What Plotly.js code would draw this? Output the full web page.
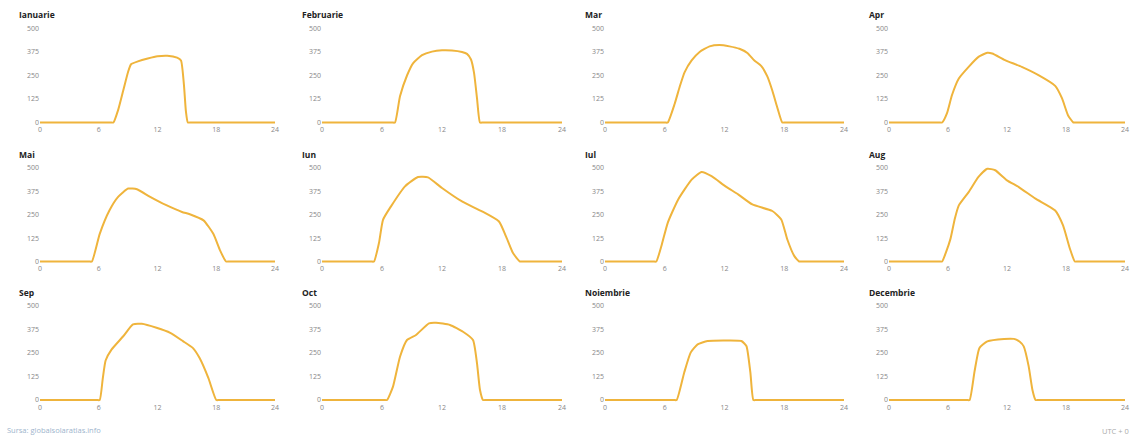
<!DOCTYPE html>
<html>
<head>
<meta charset="utf-8">
<script src="https://cdn.plot.ly/plotly-3.0.1.min.js"></script>
<style>html,body{margin:0;padding:0;background:#fff;}#chart{width:1136px;height:439px;}</style>
</head>
<body>
<div id="chart"></div>
<script>
// Month names (panel titles)
const months = ["Ianuarie","Februarie","Mar","Apr","Mai","Iun","Iul","Aug","Sep","Oct","Noiembrie","Decembrie"];

// Tick labels
const xTicks = [0, 6, 12, 18, 24];
const yTicks = [0, 125, 250, 375, 500];

// Hour positions and irradiance values (W/m²) for each month
const hIan = [0, 7.2, 7.5, 8, 8.5, 9, 9.3, 10, 11, 12, 13, 14, 14.4, 14.7, 14.9, 15.1, 15.4, 24];
const vIan = [0, 0, 0, 70, 170, 270, 310, 325, 340, 352, 355, 345, 330, 200, 60, 0, 0, 0];

const hFeb = [0, 7.0, 7.3, 7.8, 8.5, 9.1, 10, 11, 12, 13, 14, 14.5, 14.9, 15.2, 15.5, 15.8, 16.1, 24];
const vFeb = [0, 0, 0, 140, 250, 315, 358, 377, 384, 383, 375, 365, 335, 265, 130, 0, 0, 0];

const hMar = [0, 6.0, 6.3, 7, 7.5, 8, 8.7, 9.5, 10.5, 11.5, 12.5, 13.5, 14.3, 15, 15.7, 16.3, 16.8, 17.3, 17.8, 18.1, 24];
const vMar = [0, 0, 0, 100, 190, 268, 330, 375, 405, 412, 405, 392, 370, 330, 300, 245, 170, 80, 0, 0, 0];

const hApr = [0, 5.1, 5.4, 5.9, 6.4, 7.1, 8.1, 9.1, 10, 10.5, 11.8, 13.5, 15.2, 16.9, 17.6, 18.2, 18.75, 19.05, 24];
const vApr = [0, 0, 0, 50, 145, 234, 296, 349, 371, 367, 332, 296, 252, 195, 128, 39, 0, 0, 0];

const hMai = [0, 5.0, 5.3, 6.1, 7.1, 8, 9, 9.9, 11.2, 12.9, 14.5, 15.3, 16.7, 17.7, 18.4, 19, 19.3, 24];
const vMai = [0, 0, 0, 148, 274, 347, 390, 386, 347, 301, 265, 253, 220, 148, 58, 0, 0, 0];

const hIun = [0, 4.9, 5.2, 5.7, 6.1, 6.9, 8.3, 9.6, 10.6, 12, 14, 16, 17.7, 18.4, 19.1, 19.8, 20.1, 24];
const vIun = [0, 0, 0, 100, 223, 295, 402, 452, 450, 393, 321, 268, 214, 134, 45, 0, 0, 0];

const hIul = [0, 4.85, 5.15, 5.7, 6.3, 7.35, 8.7, 9.7, 10.7, 12.1, 13.4, 14.8, 16.8, 17.7, 18.3, 19, 19.5, 19.8, 24];
const vIul = [0, 0, 0, 90, 207, 332, 438, 479, 456, 402, 358, 305, 270, 225, 119, 30, 0, 0, 0];

const hAug = [0, 5.1, 5.4, 5.8, 6.25, 6.7, 7.1, 8.1, 9.1, 10, 10.8, 12, 13.2, 14.9, 16.9, 17.7, 18.4, 18.9, 19.2, 24];
const vAug = [0, 0, 0, 50, 121, 230, 300, 371, 452, 496, 488, 434, 398, 336, 273, 193, 68, 0, 0, 0];

const hSep = [0, 5.8, 6.1, 6.4, 6.7, 7.3, 8.5, 9.5, 10.4, 11.9, 13.3, 14.6, 15.6, 16.3, 17.2, 18, 18.3, 24];
const vSep = [0, 0, 0, 110, 210, 268, 339, 402, 405, 384, 357, 313, 277, 223, 116, 0, 0, 0];

const hOct = [0, 6.2, 6.5, 7.1, 7.8, 8.5, 9.4, 10.7, 11.4, 12.8, 14.1, 15.1, 15.5, 15.8, 16.1, 16.4, 24];
const vOct = [0, 0, 0, 71, 230, 319, 346, 408, 411, 399, 363, 319, 195, 53, 0, 0, 0];

const hNoi = [0, 6.9, 7.2, 7.95, 8.6, 9.3, 10.3, 12.3, 13.7, 14.2, 14.6, 14.9, 15.2, 24];
const vNoi = [0, 0, 0, 145, 252, 296, 314, 317, 314, 287, 145, 0, 0, 0];

const hDec = [0, 7.9, 8.2, 8.7, 9.2, 10, 11.7, 12.7, 13.3, 13.7, 14.2, 14.6, 14.9, 15.2, 24];
const vDec = [0, 0, 0, 152, 277, 312, 325, 325, 310, 285, 180, 50, 0, 0, 0];

const hours = [hIan, hFeb, hMar, hApr, hMai, hIun, hIul, hAug, hSep, hOct, hNoi, hDec];
const values = [vIan, vFeb, vMar, vApr, vMai, vIun, vIul, vAug, vSep, vOct, vNoi, vDec];

// Layout geometry (pixels)
const W = 1136, H = 439;
const colPx = [[40, 275], [322, 562], [605, 844], [889, 1125]];
const rowPx = [[28.5, 122.5], [168, 261.5], [306, 400]]; // [y of 500, y of 0]
const titleX = [17, 300, 583, 867];
const titleY = [15, 154, 292];
const yMin = -10, yMax = 510;

const traces = [];
const layout = {
  width: W, height: H, autosize: false,
  margin: {l: 0, r: 0, t: 0, b: 0},
  paper_bgcolor: '#ffffff', plot_bgcolor: '#ffffff',
  showlegend: false,
  font: {family: '"Open Sans", "DejaVu Sans", sans-serif', size: 7, color: '#888'},
  annotations: []
};

months.forEach((m, i) => {
  const r = Math.floor(i / 4), c = i % 4;
  const k = i === 0 ? '' : String(i + 1);
  traces.push({
    x: hours[i], y: values[i],
    xaxis: 'x' + k, yaxis: 'y' + k,
    type: 'scatter', mode: 'lines',
    line: {color: '#efb43c', width: 2, shape: 'spline', smoothing: 0.5},
    hoverinfo: 'skip'
  });
  const [y500, y0] = rowPx[r];
  const ppu = (y0 - y500) / 500;
  const top = y500 - (yMax - 500) * ppu;
  const bot = y0 + (0 - yMin) * ppu;
  layout['xaxis' + k] = {
    domain: [colPx[c][0] / W, colPx[c][1] / W],
    range: [0, 24], anchor: 'y' + k,
    tickvals: xTicks, ticktext: xTicks.map(String),
    showgrid: false, zeroline: false, showline: false, ticks: '',
    tickfont: {size: 7, color: '#888'}, fixedrange: true
  };
  layout['yaxis' + k] = {
    domain: [1 - bot / H, 1 - top / H],
    range: [yMin, yMax], anchor: 'x' + k,
    tickvals: yTicks, ticktext: yTicks.map(String),
    showgrid: false, zeroline: false, showline: false, ticks: '',
    tickfont: {size: 7, color: '#888'}, fixedrange: true
  };
  layout.annotations.push({
    text: '<b>' + m + '</b>', xref: 'paper', yref: 'paper',
    x: titleX[c] / W, y: 1 - titleY[r] / H,
    xanchor: 'left', yanchor: 'middle', showarrow: false,
    font: {size: 8.5, color: '#222', family: '"Open Sans", "DejaVu Sans", sans-serif'}
  });
});

layout.annotations.push({
  text: 'Sursa: globalsolaratlas.info', xref: 'paper', yref: 'paper',
  x: 5 / W, y: 1 - 430 / H, xanchor: 'left', yanchor: 'middle', showarrow: false,
  font: {size: 7.5, color: '#9db4cc'}
});
layout.annotations.push({
  text: 'UTC + 0', xref: 'paper', yref: 'paper',
  x: 1131 / W, y: 1 - 431 / H, xanchor: 'right', yanchor: 'middle', showarrow: false,
  font: {size: 7.5, color: '#aaa'}
});

Plotly.newPlot('chart', traces, layout, {displayModeBar: false, staticPlot: true});
</script>
</body>
</html>
